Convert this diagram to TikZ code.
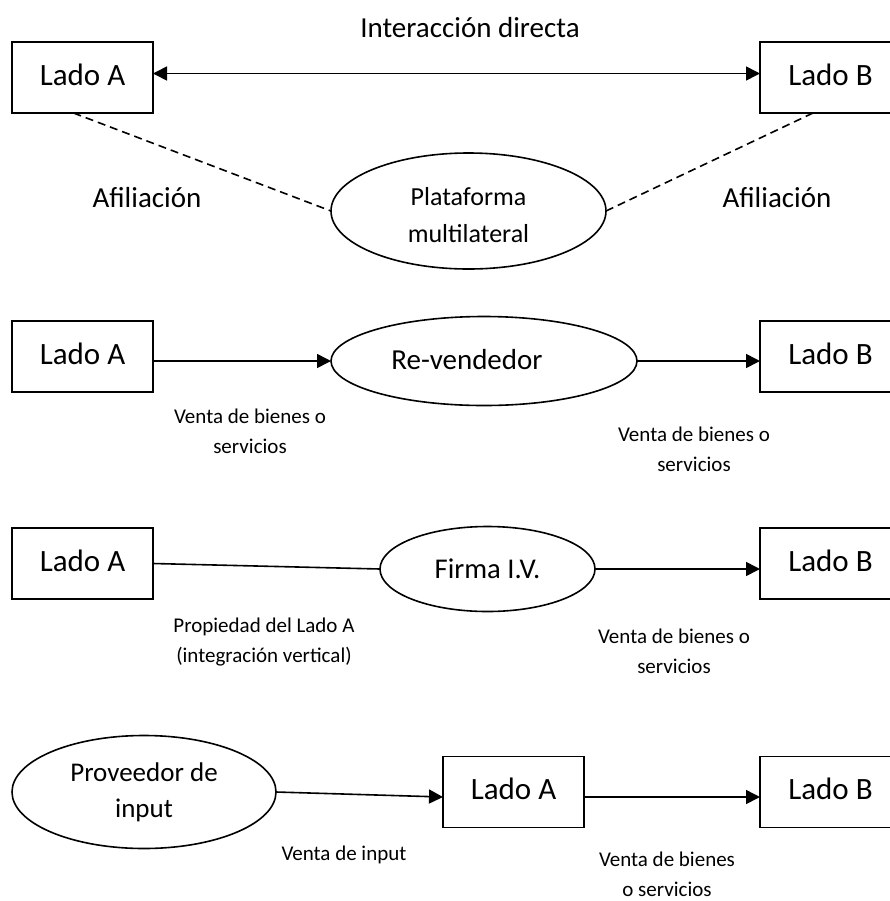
\documentclass[tikz,border=0pt]{standalone}
\usepackage{fontspec}
\setmainfont{Carlito}
\usetikzlibrary{shapes.geometric,arrows.meta}
\tikzset{
	lado/.style={draw, line width=0.9pt, minimum width=70.5pt, minimum height=35.5pt,
		inner sep=0pt, outer sep=0pt, text depth=0.3em, font=\fontsize{15.5}{18}\selectfont},
	elip/.style={draw, ellipse, line width=0.8pt, inner sep=0pt, outer sep=0pt, align=center},
	rotulo/.style={align=center, font=\fontsize{10.5}{15}\selectfont},
	flecha/.style={line width=0.8pt, -{Triangle[length=7pt,width=7pt]}},
	linea/.style={line width=0.8pt},
	afil/.style={line width=0.8pt, dash pattern=on 4pt off 2.5pt}
}

\begin{document}
\begin{tikzpicture}[x=0.5pt,y=-0.5pt]
	\clip (0,0) rectangle (890,901);
	% first row: multilateral platform
	\node[lado] (ladoA1) at (82.5,77.5) {Lado A};
	\node[lado] (ladoB1) at (830.5,77.5) {Lado B};
	\node[elip, minimum width=137.5pt, minimum height=58pt] (plat) at (468.5,211) {};
	\node[align=center, font=\fontsize{13}{18.5}\selectfont] (plattext) at (468.5,215) {Plataforma\\multilateral};
	\node[font=\fontsize{14.5}{17}\selectfont] (interac) at (470,27.5) {Interacción directa};
	\node[font=\fontsize{14.5}{17}\selectfont] (afilA) at (147,198) {Afiliación};
	\node[font=\fontsize{14.5}{17}\selectfont] (afilB) at (777,198) {Afiliación};
	% direct interaction and affiliation
	\draw[flecha, {Triangle[length=7pt,width=7pt]}-{Triangle[length=7pt,width=7pt]}]
		([yshift=2pt]ladoA1.east) -- ([yshift=2pt]ladoB1.west);
	\draw[afil] ([xshift=-4.5pt]ladoA1.south) -- (plat.west);
	\draw[afil] ([xshift=-8.75pt]ladoB1.south) -- (plat.east);

	% second row: reseller
	\node[lado] (ladoA2) at (82.5,356.5) {Lado A};
	\node[lado] (ladoB2) at (830.5,356.5) {Lado B};
	\node[elip, minimum width=153pt, minimum height=44.5pt] (rev) at (484,361) {};
	\node[font=\fontsize{14.5}{17}\selectfont] (revtext) at (467,360) {Re-vendedor};
	\draw[flecha] ([yshift=-2.25pt]ladoA2.east) -- (rev.west);
	\draw[flecha] (rev.east) -- ([yshift=-2.25pt]ladoB2.west);
	\node[rotulo] (venta2A) at (250,431) {Venta de bienes o\\servicios};
	\node[rotulo] (venta2B) at (694,449.5) {Venta de bienes o\\servicios};

	% third row: vertically integrated firm
	\node[lado] (ladoA3) at (82.5,563.5) {Lado A};
	\node[lado] (ladoB3) at (830.5,563.5) {Lado B};
	\node[elip, minimum width=107.5pt, minimum height=42.5pt,
		font=\fontsize{14.3}{17}\selectfont] (firma) at (487.5,569) {Firma I.V.};
	\draw[linea] (ladoA3.east) -- (firma.west);
	\draw[flecha] (firma.east) -- ([yshift=-2.75pt]ladoB3.west);
	\node[rotulo] (prop) at (264,642.5) {Propiedad del Lado A\\(integración vertical)};
	\node[rotulo] (venta3B) at (674,651.5) {Venta de bienes o\\servicios};

	% fourth row: input supplier
	\node[elip, minimum width=132pt, minimum height=56.5pt,
		font=\fontsize{13.5}{18}\selectfont] (prov) at (144,792) {Proveedor de\\input};
	\node[lado] (ladoA4) at (513.5,792) {Lado A};
	\node[lado] (ladoB4) at (830.5,792) {Lado B};
	\draw[flecha] (prov.east) -- ([yshift=-2.5pt]ladoA4.west);
	\draw[flecha] ([yshift=-2.5pt]ladoA4.east) -- ([yshift=-2.5pt]ladoB4.west);
	\node[rotulo] (venta4A) at (344,854.5) {Venta de input};
	\node[rotulo] (venta4B) at (667,874) {Venta de bienes\\o servicios};
\end{tikzpicture}
\end{document}
